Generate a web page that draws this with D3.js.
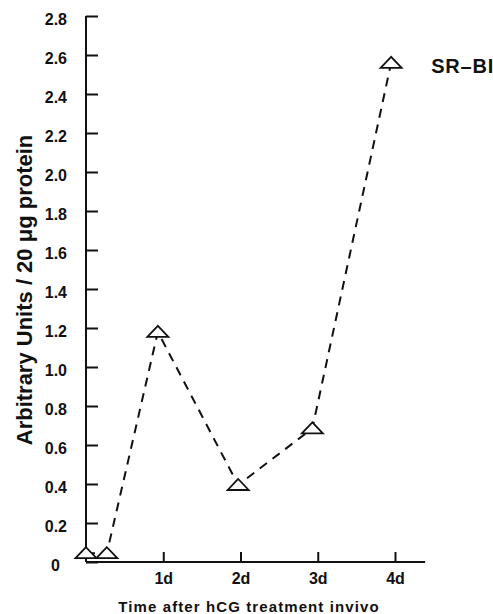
<!DOCTYPE html>
<html>
<head>
<meta charset="utf-8">
<script src="https://cdn.jsdelivr.net/npm/d3@7"></script>
<style>
  body { margin: 0; background: #fff; }
  svg { display: block; font-family: Arial, "Liberation Sans", Helvetica, sans-serif; font-weight: bold; }
</style>
</head>
<body>
<svg class="graph"></svg>
<script>
// days after hCG and SR-BI level
const days = [0, 0.27, 0.93, 1.97, 2.93, 3.95];
const srbi = [0.045, 0.045, 1.18, 0.395, 0.685, 2.56];
const yTicks = [0, 0.2, 0.4, 0.6, 0.8, 1.0, 1.2, 1.4, 1.6, 1.8, 2.0, 2.2, 2.4, 2.6, 2.8];
const xTicks = [1, 2, 3, 4];
const xTickLabels = ['1d', '2d', '3d', '4d'];
const seriesName = 'SR\u2013BI';

const width = 493;
const height = 614;
const margin = { top: 16, right: 68, bottom: 52, left: 86 };

const svg = d3.select('.graph')
  .attr('width', width)
  .attr('height', height);

const x = d3.scaleLinear()
  .domain([0, 4])
  .range([margin.left, margin.left + 309]);

const y = d3.scaleLinear()
  .domain([0, 2.8])
  .range([height - margin.bottom, margin.top]);

// y axis, ticks pointing inward
const yAxis = svg.append('g')
  .attr('transform', `translate(${margin.left},0)`)
  .call(d3.axisRight(y)
    .tickValues(yTicks)
    .tickSize(12)
    .tickFormat(d => (d === 0 ? '0' : d3.format('.1f')(d))));
yAxis.select('.domain').attr('d', `M0,${y(2.8)}V${y(0)}`);
yAxis.selectAll('text')
  .attr('x', d => (d === 0 ? -26 : -19))
  .attr('dy', '0.5em')
  .attr('text-anchor', 'end')
  .attr('font-size', '16px')
  .attr('font-weight', 'bold')
  .attr('fill', '#111');

// x axis, ticks pointing up
const xAxis = svg.append('g')
  .attr('transform', `translate(0,${y(0)})`)
  .call(d3.axisTop(x)
    .tickValues(xTicks)
    .tickSize(10)
    .tickFormat((d, i) => xTickLabels[i]));
xAxis.select('.domain').attr('d', `M${x(0)},0H${x(4.39)}`);
xAxis.selectAll('text')
  .attr('y', 11)
  .attr('dy', '0.71em')
  .attr('font-size', '16px')
  .attr('font-weight', 'bold')
  .attr('fill', '#111');

svg.selectAll('.domain, .tick line')
  .attr('stroke', '#111')
  .attr('stroke-width', 2);

svg.append('text')
  .attr('transform', 'translate(32,290) rotate(-90)')
  .attr('text-anchor', 'middle')
  .attr('font-size', '22px')
  .attr('fill', '#111')
  .text('Arbitrary Units / 20 \u03bcg protein');

svg.append('text')
  .attr('x', 249)
  .attr('y', 612)
  .attr('text-anchor', 'middle')
  .attr('font-size', '15px')
  .attr('letter-spacing', '1.1px')
  .attr('fill', '#111')
  .text('Time after hCG treatment invivo');

const pts = days.map((d, i) => ({ day: d, value: srbi[i] }));

const line = d3.line()
  .x(d => x(d.day))
  .y(d => y(d.value));

svg.append('path')
  .datum(pts)
  .attr('d', line)
  .attr('fill', 'none')
  .attr('stroke', '#111')
  .attr('stroke-width', 2)
  .attr('stroke-dasharray', '9,7');

// flat open triangles
svg.selectAll('.marker')
  .data(pts)
  .enter()
  .append('path')
  .attr('class', 'marker')
  .attr('transform', d => `translate(${x(d.day)},${y(d.value)})`)
  .attr('d', 'M0,-6L-10.5,5H10.5Z')
  .attr('fill', 'white')
  .attr('stroke', '#111')
  .attr('stroke-width', 1.8);

const last = pts[pts.length - 1];
svg.append('text')
  .attr('x', x(last.day) + 40)
  .attr('y', y(last.value) + 10)
  .attr('font-size', '20px')
  .attr('letter-spacing', '0.8px')
  .attr('fill', '#111')
  .text(seriesName);
</script>
</body>
</html>
